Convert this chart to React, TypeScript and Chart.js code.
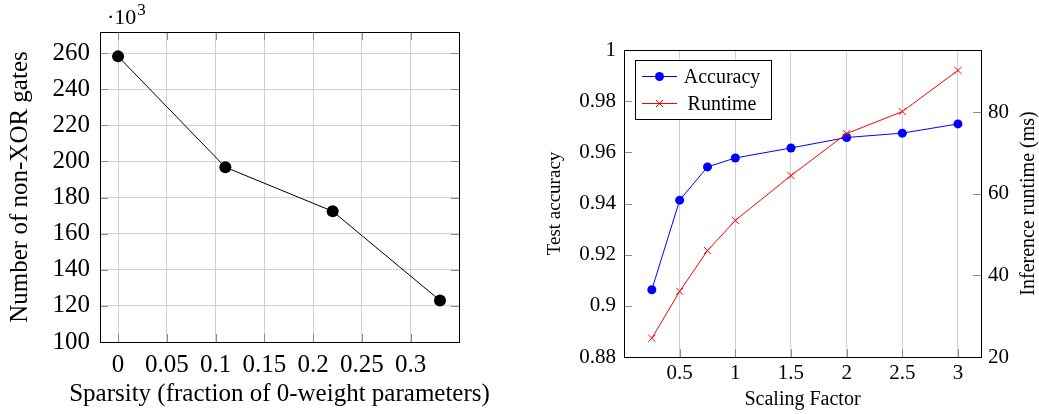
import React, { useEffect, useRef } from "react";
import { Chart, registerables } from "chart.js";

Chart.register(...registerables);

const FONT = "'Liberation Serif', 'Times New Roman', serif";

// ---- Left chart data ----
const sparsity = [0, 0.11, 0.22, 0.33];
const nonXorGates = [258.2, 196.8, 172.4, 123];
const sparsityTicks = [0, 0.05, 0.1, 0.15, 0.2, 0.25, 0.3];
const gateTicks = [100, 120, 140, 160, 180, 200, 220, 240, 260];
const leftXTitle = "Sparsity (fraction of 0-weight parameters)";
const leftYTitle = "Number of non-XOR gates";

// ---- Right chart data ----
const scalingFactor = [0.25, 0.5, 0.75, 1, 1.5, 2, 2.5, 3];
const accuracy = [0.9063, 0.9413, 0.9543, 0.9578, 0.9617, 0.9658, 0.9675, 0.9711];
const runtime = [24.6, 36.1, 46.1, 53.5, 64.5, 74.8, 80.2, 90.3];
const scalingTicks = [0.5, 1, 1.5, 2, 2.5, 3];
const accuracyTicks = [0.88, 0.9, 0.92, 0.94, 0.96, 0.98, 1];
const runtimeTicks = [20, 40, 60, 80];
const rightYTitle2 = "Inference runtime (ms)";

const GRID = "#d2d2d2";
const TICK = "#8c8c8c";
const L = 8;

function seg(ctx: CanvasRenderingContext2D, x1: number, y1: number, x2: number, y2: number) {
  ctx.beginPath();
  ctx.moveTo(x1, y1);
  ctx.lineTo(x2, y2);
  ctx.stroke();
}

const al = (v: number) => Math.round(v) + 0.5;

const leftDecor = {
  id: "leftDecor",
  beforeDatasetsDraw(chart: any) {
    const { ctx, chartArea: a, scales } = chart;
    ctx.save();
    ctx.lineWidth = 1;
    ctx.strokeStyle = TICK;
    for (const v of sparsityTicks) {
      const px = al(scales.x.getPixelForValue(v));
      seg(ctx, px, a.bottom, px, a.bottom - L);
      seg(ctx, px, a.top, px, a.top + L);
    }
    for (const v of gateTicks) {
      const py = al(scales.y.getPixelForValue(v));
      seg(ctx, a.left, py, a.left + L, py);
      seg(ctx, a.right, py, a.right - L, py);
    }
    ctx.strokeStyle = "#000";
    ctx.strokeRect(al(a.left), al(a.top), Math.round(a.right - a.left), Math.round(a.bottom - a.top));
    ctx.restore();
  },
  afterDraw(chart: any) {
    const { ctx, chartArea: a } = chart;
    ctx.save();
    ctx.fillStyle = "#000";
    // x axis title (drawn without width squeezing)
    ctx.font = `25px ${FONT}`;
    ctx.textAlign = "center";
    ctx.textBaseline = "middle";
    ctx.fillText(leftXTitle, (a.left + a.right) / 2, 394);
    // multiplier
    ctx.textBaseline = "alphabetic";
    ctx.textAlign = "left";
    ctx.font = `22px ${FONT}`;
    const t = "\u00b710";
    ctx.fillText(t, 107, 24);
    const w = ctx.measureText(t).width;
    ctx.font = `17px ${FONT}`;
    ctx.fillText("3", 107 + w + 1, 15);
    ctx.restore();
  },
};

const rightDecor = {
  id: "rightDecor",
  beforeDatasetsDraw(chart: any) {
    const { ctx, chartArea: a, scales } = chart;
    ctx.save();
    ctx.lineWidth = 1;
    ctx.strokeStyle = TICK;
    for (const v of scalingTicks) {
      const px = al(scales.x.getPixelForValue(v));
      seg(ctx, px, a.bottom, px, a.bottom - L);
    }
    for (const v of accuracyTicks) {
      const py = al(scales.y.getPixelForValue(v));
      seg(ctx, a.left, py, a.left + L, py);
    }
    for (const v of runtimeTicks) {
      const py = al(scales.y1.getPixelForValue(v));
      seg(ctx, a.right, py, a.right - L, py);
    }
    ctx.strokeStyle = "#000";
    ctx.strokeRect(al(a.left), al(a.top), Math.round(a.right - a.left), Math.round(a.bottom - a.top));
    ctx.restore();
  },
  afterDraw(chart: any) {
    const { ctx, chartArea: a } = chart;
    ctx.save();
    // right axis title (reads bottom to top)
    ctx.fillStyle = "#000";
    ctx.font = `20px ${FONT}`;
    ctx.textAlign = "center";
    ctx.textBaseline = "middle";
    ctx.translate(509, (a.top + a.bottom) / 2);
    ctx.rotate(-Math.PI / 2);
    ctx.fillText(rightYTitle2, 0, 0);
    ctx.restore();

    // legend
    ctx.save();
    const bx = 115.5, by = 60.5, bw = 136, bh = 59;
    ctx.fillStyle = "#fff";
    ctx.fillRect(bx, by, bw, bh);
    ctx.strokeStyle = "#000";
    ctx.lineWidth = 1;
    ctx.strokeRect(bx, by, bw, bh);
    const rows = [76.5, 103.5];
    chart.data.datasets.forEach((ds: any, i: number) => {
      const y = rows[i];
      ctx.strokeStyle = ds.borderColor;
      ctx.lineWidth = 1;
      seg(ctx, 122, y, 157, y);
      const cx = 139.5;
      if (ds.pointStyle === "circle") {
        ctx.fillStyle = ds.pointBackgroundColor;
        ctx.beginPath();
        ctx.arc(cx, y, ds.pointRadius, 0, Math.PI * 2);
        ctx.fill();
      } else {
        const r = ds.pointRadius * Math.SQRT1_2;
        seg(ctx, cx - r, y - r, cx + r, y + r);
        seg(ctx, cx - r, y + r, cx + r, y - r);
      }
      ctx.fillStyle = "#000";
      ctx.font = `20px ${FONT}`;
      ctx.textAlign = "center";
      ctx.textBaseline = "middle";
      ctx.fillText(ds.label, 202, y + 1);
    });
    ctx.restore();
  },
};

function setTicks(values: number[]) {
  return (s: any) => {
    s.ticks = values.map((v) => ({ value: v }));
  };
}

function LeftChart() {
  const ref = useRef<HTMLCanvasElement>(null);
  useEffect(() => {
    const chart = new Chart(ref.current!, {
      type: "line",
      data: {
        datasets: [
          {
            label: "gates",
            data: sparsity.map((x, i) => ({ x, y: nonXorGates[i] })),
            borderColor: "#000",
            backgroundColor: "#000",
            borderWidth: 1,
            pointRadius: 6,
            pointBackgroundColor: "#000",
            pointBorderColor: "#000",
            pointBorderWidth: 0,
            tension: 0,
          },
        ],
      },
      options: {
        animation: false,
        responsive: false,
        layout: { padding: { top: 32, right: 51, left: 0, bottom: 0 } },
        plugins: { legend: { display: false }, tooltip: { enabled: false } },
        scales: {
          x: {
            type: "linear",
            min: -0.0185,
            max: 0.3495,
            afterBuildTicks: setTicks(sparsityTicks),
            afterFit: (s: any) => {
              s.height = 72;
            },
            grid: { color: GRID, drawTicks: false },
            border: { display: false },
            ticks: {
              autoSkip: false,
              maxRotation: 0,
              padding: 8,
              color: "#000",
              font: { family: FONT, size: 25 },
              callback: (v: any) => String(v),
            },
          },
          y: {
            type: "linear",
            min: 100,
            max: 271.7,
            afterBuildTicks: setTicks(gateTicks),
            afterFit: (s: any) => {
              s.width = 100;
            },
            grid: { color: GRID, drawTicks: false },
            border: { display: false },
            ticks: {
              autoSkip: false,
              padding: 10,
              color: "#000",
              font: { family: FONT, size: 25 },
              callback: (v: any) => String(v),
            },
            title: {
              display: true,
              text: leftYTitle,
              color: "#000",
              font: { family: FONT, size: 25 },
              padding: { top: 5, bottom: 0 },
            },
          },
        },
      },
      plugins: [leftDecor],
    });
    return () => chart.destroy();
  }, []);
  return <canvas ref={ref} width={510} height={414} style={{ position: "absolute", left: 0, top: 0 }} />;
}

function RightChart() {
  const ref = useRef<HTMLCanvasElement>(null);
  useEffect(() => {
    const chart = new Chart(ref.current!, {
      type: "line",
      data: {
        datasets: [
          {
            label: "Accuracy",
            data: scalingFactor.map((x, i) => ({ x, y: accuracy[i] })),
            yAxisID: "y",
            borderColor: "#0000ff",
            backgroundColor: "#0000ff",
            borderWidth: 1,
            pointStyle: "circle",
            pointRadius: 4.5,
            pointBackgroundColor: "#0000ff",
            pointBorderColor: "#0000ff",
            pointBorderWidth: 0,
            tension: 0,
            order: 1,
          },
          {
            label: "Runtime",
            data: scalingFactor.map((x, i) => ({ x, y: runtime[i] })),
            yAxisID: "y1",
            borderColor: "#ff0000",
            backgroundColor: "#ff0000",
            borderWidth: 1,
            pointStyle: "crossRot",
            pointRadius: 5,
            pointBackgroundColor: "#ff0000",
            pointBorderColor: "#ff0000",
            pointBorderWidth: 1,
            tension: 0,
            order: 0,
          },
        ],
      },
      options: {
        animation: false,
        responsive: false,
        layout: { padding: { top: 50, right: 0, left: 0, bottom: 0 } },
        plugins: { legend: { display: false }, tooltip: { enabled: false } },
        scales: {
          x: {
            type: "linear",
            min: 0,
            max: 3.207,
            afterBuildTicks: setTicks(scalingTicks),
            afterFit: (s: any) => {
              s.height = 57;
            },
            grid: { color: GRID, drawTicks: false },
            border: { display: false },
            ticks: {
              autoSkip: false,
              maxRotation: 0,
              padding: 4,
              color: "#000",
              font: { family: FONT, size: 21 },
              callback: (v: any) => String(v),
            },
            title: {
              display: true,
              text: "Scaling Factor",
              color: "#000",
              font: { family: FONT, size: 20 },
              padding: { top: 0, bottom: 2 },
            },
          },
          y: {
            type: "linear",
            position: "left",
            min: 0.88,
            max: 1,
            afterBuildTicks: setTicks(accuracyTicks),
            afterFit: (s: any) => {
              s.width = 104;
            },
            grid: { display: false, drawTicks: false },
            border: { display: false },
            ticks: {
              autoSkip: false,
              padding: 8,
              color: "#000",
              font: { family: FONT, size: 21 },
              callback: (v: any) => String(v),
            },
            title: {
              display: true,
              text: "Test accuracy",
              color: "#000",
              font: { family: FONT, size: 19 },
              padding: { top: 24, bottom: 0 },
            },
          },
          y1: {
            type: "linear",
            position: "right",
            min: 20,
            max: 95.3,
            afterBuildTicks: setTicks(runtimeTicks),
            afterFit: (s: any) => {
              s.width = 58;
            },
            grid: { display: false, drawTicks: false },
            border: { display: false },
            ticks: {
              autoSkip: false,
              padding: 7,
              color: "#000",
              font: { family: FONT, size: 21 },
              callback: (v: any) => String(v),
            },
          },
        },
      },
      plugins: [rightDecor],
    });
    return () => chart.destroy();
  }, []);
  return <canvas ref={ref} width={519} height={414} style={{ position: "absolute", left: 520, top: 0 }} />;
}

export default function App() {
  return (
    <div style={{ position: "fixed", left: 0, top: 0, width: 1039, height: 414, background: "#fff", overflow: "hidden" }}>
      <LeftChart />
      <RightChart />
    </div>
  );
}
